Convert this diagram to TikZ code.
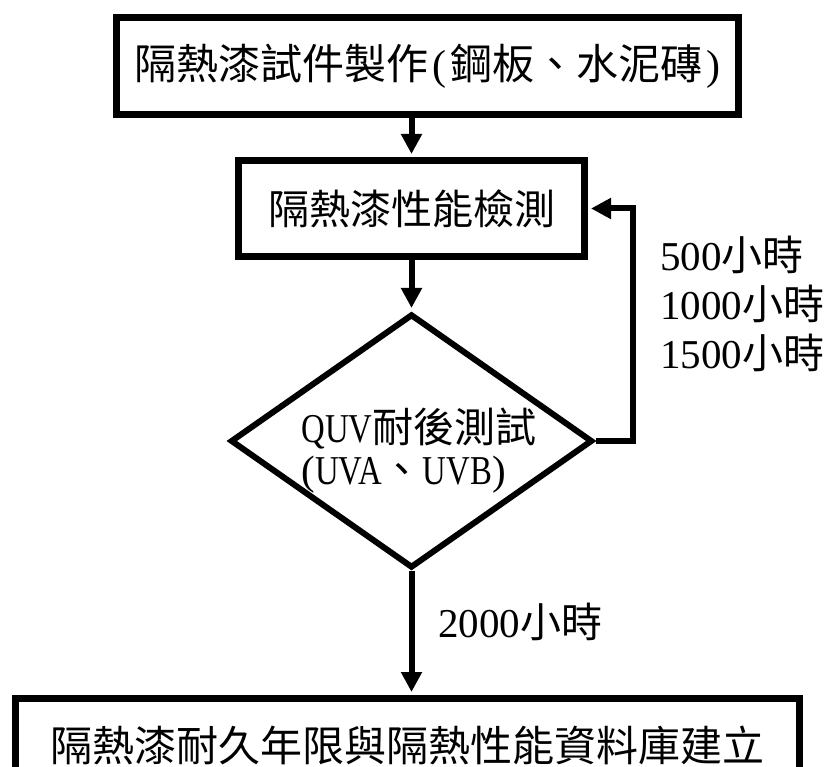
\documentclass[tikz,border=0pt]{standalone}
\usepackage{fontspec}
\setmainfont{Liberation Serif}
\newfontfamily\cjk{Noto Sans CJK TC}
\newfontfamily\narrowlat[FakeStretch=0.8]{Liberation Serif}
\usetikzlibrary{arrows.meta,shapes.geometric}
\newcommand\zhtxt[1]{{\cjk #1}}
\begin{document}
\begin{tikzpicture}[x=1pt,y=-1pt,
  box/.style={draw, line width=7pt, inner sep=0pt},
  conn/.style={line width=6pt, shorten >=3pt, -{Triangle[width=20pt,length=20pt]}},
  txt/.style={font=\fontsize{41}{49}\selectfont, inner sep=0pt}]
\useasboundingbox (0,0) rectangle (833,767);
\fill[white] (0,0) rectangle (833,767);
\clip (0,0) rectangle (833,767);
% boxes
\node[box, txt, font=\fontsize{42}{49}\selectfont, minimum width=622pt, minimum height=97pt] (n1) at (427.5,66)
  {\zhtxt{隔熱漆試件製作}\kern4pt(\kern4pt\zhtxt{鋼板、水泥磚}\kern4pt)};
\node[box, txt, minimum width=346pt, minimum height=96pt] (n2) at (411.5,208.5)
  {\zhtxt{隔熱漆性能檢測}};
\node[draw, diamond, line width=6pt, minimum width=362pt, minimum height=254pt, inner sep=0pt] (d) at (411.5,441) {};
\node[txt, font=\fontsize{41}{42}\selectfont, align=left] (dt) at (419,451)
  {{\narrowlat QUV}\zhtxt{耐後測試}\\({\narrowlat UVA}\zhtxt{、}{\narrowlat UVB})};
\node[box, txt, font=\fontsize{42}{49}\selectfont, minimum width=784pt, minimum height=93pt] (n3) at (407.5,745)
  {\zhtxt{隔熱漆耐久年限與隔熱性能資料庫建立}};
% labels
\node[txt, anchor=west, align=left] (lbl) at (660,304)
  {500\zhtxt{小時}\\1000\zhtxt{小時}\\1500\zhtxt{小時}};
\node[txt, anchor=west] (l2) at (438,622) {2000\zhtxt{小時}};
% connectors
\draw[conn] (n2.north |- n1.south) -- (n2.north);
\draw[conn] (n2.south) -- (d.north);
\draw[conn] (d.south) -- (d.south |- n3.north);
\coordinate (lp) at (633,441);
\draw[conn] (d.east) -- (lp) |- (n2.east);
\end{tikzpicture}
\end{document}
